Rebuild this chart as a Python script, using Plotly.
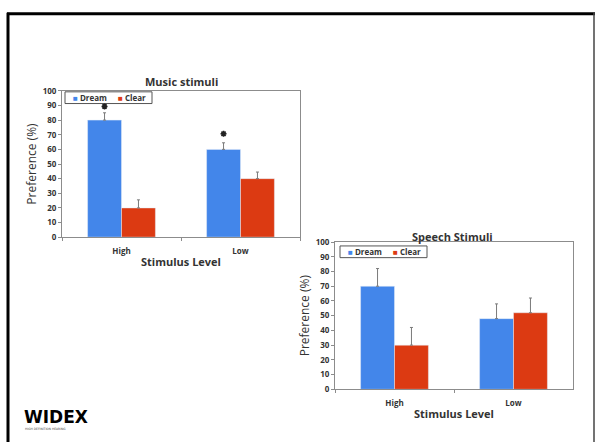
import plotly.graph_objects as go

W, H = 596, 447

categories = ["High", "Low"]
series_names = ["Dream", "Clear"]
music_dream = [80, 60]
music_clear = [20, 40]
music_dream_err = [5, 4.5]
music_clear_err = [5.5, 4.5]
music_star_y = [89.3, 70.7]

speech_dream = [70, 48]
speech_clear = [30, 52]
speech_dream_err = [12, 10]
speech_clear_err = [12, 10]

y_ticks = list(range(0, 101, 10))

BLUE = "#4386ea"
RED = "#dc3a12"
TXT = "#333333"
AX = "#8c8c8c"
FONT = "Open Sans"
BARGAP = 0.43


def px(x):
    return x / W


def py(y):
    return 1 - y / H


fig = go.Figure()

err_style = dict(type="data", symmetric=False, color="#7a7a7a", thickness=1, width=1.5)

fig.add_trace(go.Bar(x=categories, y=music_dream, name=series_names[0], marker_color=BLUE,
                     error_y=dict(array=music_dream_err, arrayminus=[0, 0], **err_style),
                     xaxis="x", yaxis="y"))
fig.add_trace(go.Bar(x=categories, y=music_clear, name=series_names[1], marker_color=RED,
                     error_y=dict(array=music_clear_err, arrayminus=[0, 0], **err_style),
                     xaxis="x", yaxis="y"))
fig.add_trace(go.Bar(x=categories, y=speech_dream, name=series_names[0], marker_color=BLUE,
                     error_y=dict(array=speech_dream_err, arrayminus=[0, 0], **err_style),
                     xaxis="x2", yaxis="y2"))
fig.add_trace(go.Bar(x=categories, y=speech_clear, name=series_names[1], marker_color=RED,
                     error_y=dict(array=speech_clear_err, arrayminus=[0, 0], **err_style),
                     xaxis="x2", yaxis="y2"))

# significance markers above the Dream bars (numeric overlay axis aligned with categories)
bar_w = (1 - BARGAP) / 2
star_x = [i - bar_w / 2 for i in range(len(categories))]
fig.add_trace(go.Scatter(x=star_x, y=music_star_y, mode="markers", xaxis="x3", yaxis="y",
                         marker=dict(symbol="asterisk-open", size=5, color="#222222",
                                     line=dict(width=1.6, color="#222222")),
                         hoverinfo="skip"))

xaxis_common = dict(type="category", showline=True, linecolor=AX, linewidth=1, mirror=True,
                    ticks="outside", tickson="boundaries", ticklen=3, tickcolor=AX,
                    ticklabelstandoff=6,
                    tickfont=dict(family=FONT, size=8, color=TXT, weight="bold"),
                    showgrid=False, zeroline=False, fixedrange=True,
                    title=dict(text="Stimulus Level", standoff=3,
                               font=dict(family=FONT, size=11, color=TXT, weight="bold")))
yaxis_common = dict(range=[0, 100], tickvals=y_ticks, showline=True, linecolor=AX, linewidth=1,
                    mirror=True, ticks="outside", ticklen=3, tickcolor=AX,
                    tickfont=dict(family=FONT, size=8, color=TXT, weight="bold"),
                    showgrid=False, zeroline=False, fixedrange=True,
                    title=dict(text="Preference (%)", standoff=3,
                               font=dict(family=FONT, size=12, color=TXT)))

fig.update_layout(
    width=W, height=H,
    margin=dict(l=0, r=0, t=0, b=0),
    paper_bgcolor="white", plot_bgcolor="white",
    barmode="group", bargap=BARGAP, bargroupgap=0,
    xaxis=dict(domain=[px(62), px(300)], anchor="y", **xaxis_common),
    yaxis=dict(domain=[py(237), py(87)], anchor="x", **yaxis_common),
    xaxis2=dict(domain=[px(335), px(573)], anchor="y2", **xaxis_common),
    yaxis2=dict(domain=[py(393), py(242)], anchor="x2", **yaxis_common),
    xaxis3=dict(overlaying="x", anchor="y", range=[-0.5, len(categories) - 0.5],
                visible=False, fixedrange=True),
    showlegend=False,
)

annotations = [
    dict(text="Music stimuli", xref="paper", yref="paper", x=px(181), y=py(77),
         xanchor="center", yanchor="middle", showarrow=False,
         font=dict(family=FONT, size=11, color=TXT, weight="bold")),
    dict(text="Speech Stimuli", xref="paper", yref="paper", x=px(452), y=py(236),
         xanchor="center", yanchor="middle", showarrow=False,
         font=dict(family=FONT, size=11, color=TXT, weight="bold")),
    dict(text="<b>WIDEX</b>", xref="paper", yref="paper", x=px(22), y=py(421),
         xanchor="left", yanchor="middle", showarrow=False,
         font=dict(family="DejaVu Sans", size=17, color="black")),
    dict(text="HIGH DEFINITION HEARING", xref="paper", yref="paper", x=px(23), y=py(434),
         xanchor="left", yanchor="middle", showarrow=False,
         font=dict(family="DejaVu Sans", size=3, color="#444444")),
]

shapes = []
# legend boxes (top-left corner of each chart's legend, pixels)
for lx, ly in [(65, 88), (340, 246)]:
    shapes.append(dict(type="rect", xref="paper", yref="paper",
                       x0=px(lx), x1=px(lx + 87), y0=py(ly), y1=py(ly + 12),
                       line=dict(color="#555555", width=1), fillcolor="white", layer="below"))
    for i, (name, col) in enumerate(zip(series_names, [BLUE, RED])):
        annotations.append(dict(
            text=f"<span style='color:{col}'>■</span> {name}",
            xref="paper", yref="paper", x=px(lx + 6 + i * 45), y=py(ly + 6),
            xanchor="left", yanchor="middle", showarrow=False,
            font=dict(family=FONT, size=8, color=TXT, weight="bold")))

# slide frame
shapes += [
    dict(type="line", xref="paper", yref="paper", x0=px(7), x1=px(595), y0=py(8), y1=py(8),
         line=dict(color="black", width=3)),
    dict(type="line", xref="paper", yref="paper", x0=px(8), x1=px(8), y0=py(7), y1=py(447),
         line=dict(color="black", width=3)),
    dict(type="line", xref="paper", yref="paper", x0=px(594), x1=px(594), y0=py(7), y1=py(447),
         line=dict(color="#444444", width=1.5)),
]
fig.update_layout(annotations=annotations, shapes=shapes)

fig.write_html("out.html")
